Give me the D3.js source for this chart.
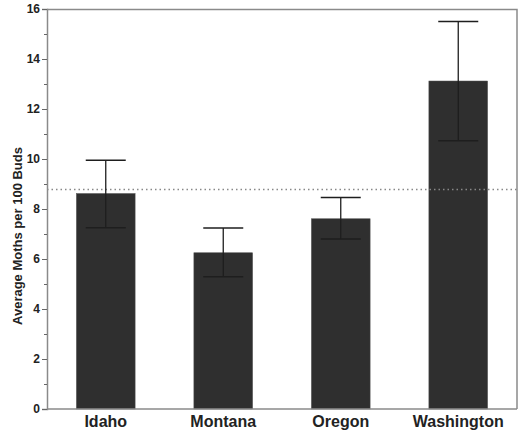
<!DOCTYPE html>
<html>
<head>
<meta charset="utf-8">
<script src="https://cdn.jsdelivr.net/npm/d3@7"></script>
<style>
  body { margin: 0; background: #fff; }
  text { font-family: Arial, "Liberation Sans", sans-serif; font-weight: bold; }
</style>
</head>
<body>
<div id="viz"></div>
<script>
// data
var states = ["Idaho", "Montana", "Oregon", "Washington"];
var means = [8.62, 6.25, 7.61, 13.12];
var errLow = [7.25, 5.29, 6.8, 10.73];
var errHigh = [9.95, 7.24, 8.46, 15.5];
var refLine = 8.78;
var yTicks = [0, 2, 4, 6, 8, 10, 12, 14, 16];
var yMinor = [1, 3, 5, 7, 9, 11, 13, 15];

var width = 522, height = 435;
var margin = {top: 9, right: 5, bottom: 26, left: 47};
var w = width - margin.left - margin.right,
    h = height - margin.top - margin.bottom;

var svg = d3.select("#viz").append("svg")
    .attr("width", width)
    .attr("height", height)
  .append("g")
    .attr("transform", "translate(" + margin.left + "," + margin.top + ")");

var x = d3.scaleBand().domain(states).range([0, w]).paddingInner(0.5).paddingOuter(0.25);
var y = d3.scaleLinear().domain([0, 16]).range([h, 0]);

// frame top + right
svg.append("path")
    .attr("d", "M0,0.5H" + w + "V" + h)
    .attr("fill", "none")
    .attr("stroke", "#8a8a8a")
    .attr("stroke-width", 1.5);

// bars
svg.selectAll("rect.bar")
    .data(means)
  .enter().append("rect")
    .attr("class", "bar")
    .attr("x", function(d, i) { return x(states[i]); })
    .attr("y", function(d) { return y(d); })
    .attr("width", x.bandwidth())
    .attr("height", function(d) { return h - y(d); })
    .attr("fill", "#2f2f2f")
    .attr("stroke", "#555")
    .attr("stroke-width", 0.5);

// reference line
svg.append("line")
    .attr("x1", 0).attr("x2", w)
    .attr("y1", y(refLine)).attr("y2", y(refLine))
    .attr("stroke", "#888")
    .attr("stroke-width", 1.5)
    .attr("stroke-dasharray", "1.5,3");

// error bars
var capW = 20;
var eb = svg.selectAll("g.err")
    .data(states)
  .enter().append("g")
    .attr("class", "err")
    .attr("stroke", "#1e1e1e")
    .attr("stroke-width", 1.3);
eb.append("line")
    .attr("x1", function(d) { return x(d) + x.bandwidth() / 2; })
    .attr("x2", function(d) { return x(d) + x.bandwidth() / 2; })
    .attr("y1", function(d, i) { return y(errLow[i]); })
    .attr("y2", function(d, i) { return y(errHigh[i]); });
eb.append("line")
    .attr("x1", function(d) { return x(d) + x.bandwidth() / 2 - capW; })
    .attr("x2", function(d) { return x(d) + x.bandwidth() / 2 + capW; })
    .attr("y1", function(d, i) { return y(errHigh[i]); })
    .attr("y2", function(d, i) { return y(errHigh[i]); });
eb.append("line")
    .attr("x1", function(d) { return x(d) + x.bandwidth() / 2 - capW; })
    .attr("x2", function(d) { return x(d) + x.bandwidth() / 2 + capW; })
    .attr("y1", function(d, i) { return y(errLow[i]); })
    .attr("y2", function(d, i) { return y(errLow[i]); });

// y axis
var yAxis = svg.append("g")
    .call(d3.axisLeft(y).tickValues(yTicks).tickSize(5).tickPadding(2));
yAxis.select(".domain").attr("stroke", "#8a8a8a").attr("stroke-width", 1.5);
yAxis.selectAll(".tick line").attr("stroke", "#666");
yAxis.selectAll(".tick text").attr("font-size", 12).attr("fill", "#222")
    .attr("font-family", "Arial, 'Liberation Sans', sans-serif").attr("font-weight", "bold");

var yMin = svg.append("g")
    .call(d3.axisLeft(y).tickValues(yMinor).tickSize(3).tickFormat(""));
yMin.select(".domain").remove();
yMin.selectAll(".tick line").attr("stroke", "#666");

// x axis
var xAxis = svg.append("g")
    .attr("transform", "translate(0," + h + ")")
    .call(d3.axisBottom(x).tickSize(0).tickPadding(7));
xAxis.select(".domain").attr("stroke", "#8a8a8a").attr("stroke-width", 1.5)
    .attr("d", "M0,0H" + w);
xAxis.selectAll(".tick text").attr("font-size", 16).attr("fill", "#222")
    .attr("font-family", "Arial, 'Liberation Sans', sans-serif").attr("font-weight", "bold");

// y label
svg.append("text")
    .attr("transform", "rotate(-90)")
    .attr("x", -(y(8) + 27))
    .attr("y", -25)
    .attr("text-anchor", "middle")
    .attr("font-size", 13)
    .attr("fill", "#222")
    .text("Average Moths per 100 Buds");
</script>
</body>
</html>
